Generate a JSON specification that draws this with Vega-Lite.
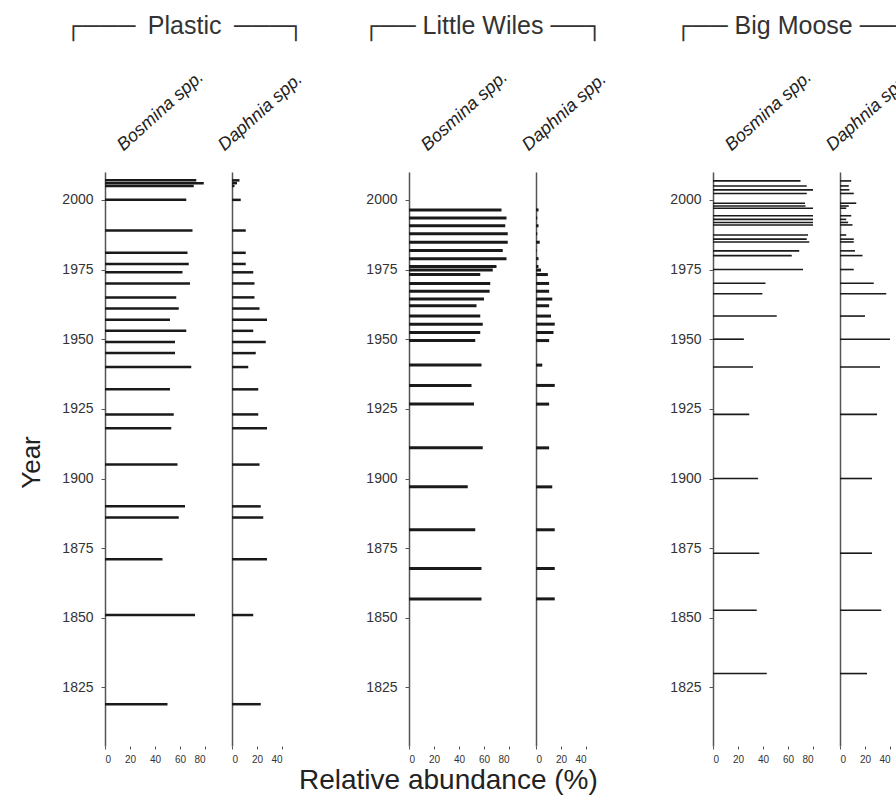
{
  "$schema": "https://vega.github.io/schema/vega-lite/v6.json",
  "background": "white",
  "padding": {"left": 18, "top": 13, "right": 0, "bottom": 0},
  "spacing": 27,
  "bounds": "flush",
  "title": {"text": "Relative abundance (%)", "orient": "bottom", "fontSize": 28, "fontWeight": "normal", "font": "Liberation Sans", "color": "#222", "anchor": "start", "dx": 281, "offset": 3},
  "config": {
    "view": {"stroke": null},
    "font": "Liberation Sans",
    "axis": {"labelFont": "Liberation Sans", "titleFont": "Liberation Sans", "domainColor": "#555", "tickColor": "#555", "labelColor": "#333", "grid": false, "domainWidth": 1.5, "titleColor": "#222", "titleFontWeight": "normal"},
    "title": {"font": "Liberation Sans", "fontWeight": "normal", "color": "#222"}
  },
  "datasets": {
    "d": [
      {"lake": "Plastic", "taxon": "Bosmina", "year": 2007, "value": 73},
      {"lake": "Plastic", "taxon": "Bosmina", "year": 2006, "value": 79},
      {"lake": "Plastic", "taxon": "Bosmina", "year": 2005, "value": 71},
      {"lake": "Plastic", "taxon": "Bosmina", "year": 2000, "value": 65},
      {"lake": "Plastic", "taxon": "Bosmina", "year": 1989, "value": 70},
      {"lake": "Plastic", "taxon": "Bosmina", "year": 1981, "value": 66},
      {"lake": "Plastic", "taxon": "Bosmina", "year": 1977, "value": 67},
      {"lake": "Plastic", "taxon": "Bosmina", "year": 1974, "value": 62},
      {"lake": "Plastic", "taxon": "Bosmina", "year": 1970, "value": 68},
      {"lake": "Plastic", "taxon": "Bosmina", "year": 1965, "value": 57},
      {"lake": "Plastic", "taxon": "Bosmina", "year": 1961, "value": 59},
      {"lake": "Plastic", "taxon": "Bosmina", "year": 1957, "value": 52},
      {"lake": "Plastic", "taxon": "Bosmina", "year": 1953, "value": 65},
      {"lake": "Plastic", "taxon": "Bosmina", "year": 1949, "value": 56},
      {"lake": "Plastic", "taxon": "Bosmina", "year": 1945, "value": 56},
      {"lake": "Plastic", "taxon": "Bosmina", "year": 1940, "value": 69},
      {"lake": "Plastic", "taxon": "Bosmina", "year": 1932, "value": 52},
      {"lake": "Plastic", "taxon": "Bosmina", "year": 1923, "value": 55},
      {"lake": "Plastic", "taxon": "Bosmina", "year": 1918, "value": 53},
      {"lake": "Plastic", "taxon": "Bosmina", "year": 1905, "value": 58},
      {"lake": "Plastic", "taxon": "Bosmina", "year": 1890, "value": 64},
      {"lake": "Plastic", "taxon": "Bosmina", "year": 1886, "value": 59},
      {"lake": "Plastic", "taxon": "Bosmina", "year": 1871, "value": 46},
      {"lake": "Plastic", "taxon": "Bosmina", "year": 1851, "value": 72},
      {"lake": "Plastic", "taxon": "Bosmina", "year": 1819, "value": 50},
      {"lake": "Plastic", "taxon": "Daphnia", "year": 2007, "value": 6},
      {"lake": "Plastic", "taxon": "Daphnia", "year": 2006, "value": 4},
      {"lake": "Plastic", "taxon": "Daphnia", "year": 2005, "value": 2},
      {"lake": "Plastic", "taxon": "Daphnia", "year": 2000, "value": 7},
      {"lake": "Plastic", "taxon": "Daphnia", "year": 1989, "value": 11},
      {"lake": "Plastic", "taxon": "Daphnia", "year": 1981, "value": 11},
      {"lake": "Plastic", "taxon": "Daphnia", "year": 1977, "value": 11},
      {"lake": "Plastic", "taxon": "Daphnia", "year": 1974, "value": 17},
      {"lake": "Plastic", "taxon": "Daphnia", "year": 1970, "value": 18},
      {"lake": "Plastic", "taxon": "Daphnia", "year": 1965, "value": 18},
      {"lake": "Plastic", "taxon": "Daphnia", "year": 1961, "value": 22},
      {"lake": "Plastic", "taxon": "Daphnia", "year": 1957, "value": 28},
      {"lake": "Plastic", "taxon": "Daphnia", "year": 1953, "value": 17},
      {"lake": "Plastic", "taxon": "Daphnia", "year": 1949, "value": 27},
      {"lake": "Plastic", "taxon": "Daphnia", "year": 1945, "value": 19},
      {"lake": "Plastic", "taxon": "Daphnia", "year": 1940, "value": 13},
      {"lake": "Plastic", "taxon": "Daphnia", "year": 1932, "value": 21},
      {"lake": "Plastic", "taxon": "Daphnia", "year": 1923, "value": 21},
      {"lake": "Plastic", "taxon": "Daphnia", "year": 1918, "value": 28},
      {"lake": "Plastic", "taxon": "Daphnia", "year": 1905, "value": 22},
      {"lake": "Plastic", "taxon": "Daphnia", "year": 1890, "value": 23},
      {"lake": "Plastic", "taxon": "Daphnia", "year": 1886, "value": 25},
      {"lake": "Plastic", "taxon": "Daphnia", "year": 1871, "value": 28},
      {"lake": "Plastic", "taxon": "Daphnia", "year": 1851, "value": 17},
      {"lake": "Plastic", "taxon": "Daphnia", "year": 1819, "value": 23},
      {"lake": "Little Wiles", "taxon": "Bosmina", "year": 1996.4, "value": 74},
      {"lake": "Little Wiles", "taxon": "Bosmina", "year": 1993.5, "value": 78},
      {"lake": "Little Wiles", "taxon": "Bosmina", "year": 1990.7, "value": 77},
      {"lake": "Little Wiles", "taxon": "Bosmina", "year": 1987.8, "value": 79},
      {"lake": "Little Wiles", "taxon": "Bosmina", "year": 1984.8, "value": 79},
      {"lake": "Little Wiles", "taxon": "Bosmina", "year": 1981.8, "value": 75},
      {"lake": "Little Wiles", "taxon": "Bosmina", "year": 1978.9, "value": 78},
      {"lake": "Little Wiles", "taxon": "Bosmina", "year": 1976.1, "value": 70},
      {"lake": "Little Wiles", "taxon": "Bosmina", "year": 1974.8, "value": 67},
      {"lake": "Little Wiles", "taxon": "Bosmina", "year": 1973.2, "value": 57},
      {"lake": "Little Wiles", "taxon": "Bosmina", "year": 1970, "value": 65},
      {"lake": "Little Wiles", "taxon": "Bosmina", "year": 1967.2, "value": 64.5},
      {"lake": "Little Wiles", "taxon": "Bosmina", "year": 1964.4, "value": 60},
      {"lake": "Little Wiles", "taxon": "Bosmina", "year": 1962, "value": 54},
      {"lake": "Little Wiles", "taxon": "Bosmina", "year": 1958.3, "value": 57},
      {"lake": "Little Wiles", "taxon": "Bosmina", "year": 1955.4, "value": 59},
      {"lake": "Little Wiles", "taxon": "Bosmina", "year": 1952.4, "value": 57},
      {"lake": "Little Wiles", "taxon": "Bosmina", "year": 1949.5, "value": 53},
      {"lake": "Little Wiles", "taxon": "Bosmina", "year": 1940.7, "value": 58},
      {"lake": "Little Wiles", "taxon": "Bosmina", "year": 1933.4, "value": 50},
      {"lake": "Little Wiles", "taxon": "Bosmina", "year": 1926.7, "value": 52},
      {"lake": "Little Wiles", "taxon": "Bosmina", "year": 1911, "value": 59},
      {"lake": "Little Wiles", "taxon": "Bosmina", "year": 1897, "value": 47},
      {"lake": "Little Wiles", "taxon": "Bosmina", "year": 1881.6, "value": 53},
      {"lake": "Little Wiles", "taxon": "Bosmina", "year": 1867.7, "value": 58},
      {"lake": "Little Wiles", "taxon": "Bosmina", "year": 1856.8, "value": 58},
      {"lake": "Little Wiles", "taxon": "Daphnia", "year": 1996.4, "value": 2},
      {"lake": "Little Wiles", "taxon": "Daphnia", "year": 1993.5, "value": 1},
      {"lake": "Little Wiles", "taxon": "Daphnia", "year": 1990.7, "value": 2},
      {"lake": "Little Wiles", "taxon": "Daphnia", "year": 1987.8, "value": 1},
      {"lake": "Little Wiles", "taxon": "Daphnia", "year": 1984.8, "value": 3},
      {"lake": "Little Wiles", "taxon": "Daphnia", "year": 1981.8, "value": 0.5},
      {"lake": "Little Wiles", "taxon": "Daphnia", "year": 1978.9, "value": 2},
      {"lake": "Little Wiles", "taxon": "Daphnia", "year": 1976.1, "value": 2},
      {"lake": "Little Wiles", "taxon": "Daphnia", "year": 1974.8, "value": 4},
      {"lake": "Little Wiles", "taxon": "Daphnia", "year": 1973.2, "value": 9.5},
      {"lake": "Little Wiles", "taxon": "Daphnia", "year": 1970, "value": 10.5},
      {"lake": "Little Wiles", "taxon": "Daphnia", "year": 1967.2, "value": 10.5},
      {"lake": "Little Wiles", "taxon": "Daphnia", "year": 1964.4, "value": 13},
      {"lake": "Little Wiles", "taxon": "Daphnia", "year": 1962, "value": 10.5},
      {"lake": "Little Wiles", "taxon": "Daphnia", "year": 1958.3, "value": 12},
      {"lake": "Little Wiles", "taxon": "Daphnia", "year": 1955.4, "value": 15},
      {"lake": "Little Wiles", "taxon": "Daphnia", "year": 1952.4, "value": 14},
      {"lake": "Little Wiles", "taxon": "Daphnia", "year": 1949.5, "value": 10.5},
      {"lake": "Little Wiles", "taxon": "Daphnia", "year": 1940.7, "value": 5},
      {"lake": "Little Wiles", "taxon": "Daphnia", "year": 1933.4, "value": 15},
      {"lake": "Little Wiles", "taxon": "Daphnia", "year": 1926.7, "value": 10.5},
      {"lake": "Little Wiles", "taxon": "Daphnia", "year": 1911, "value": 10.5},
      {"lake": "Little Wiles", "taxon": "Daphnia", "year": 1897, "value": 13},
      {"lake": "Little Wiles", "taxon": "Daphnia", "year": 1881.6, "value": 15},
      {"lake": "Little Wiles", "taxon": "Daphnia", "year": 1867.7, "value": 15},
      {"lake": "Little Wiles", "taxon": "Daphnia", "year": 1856.8, "value": 15},
      {"lake": "Big Moose", "taxon": "Bosmina", "year": 2006.8, "value": 70},
      {"lake": "Big Moose", "taxon": "Bosmina", "year": 2005, "value": 75},
      {"lake": "Big Moose", "taxon": "Bosmina", "year": 2003.6, "value": 80},
      {"lake": "Big Moose", "taxon": "Bosmina", "year": 2002.3, "value": 75},
      {"lake": "Big Moose", "taxon": "Bosmina", "year": 1998.8, "value": 73.6},
      {"lake": "Big Moose", "taxon": "Bosmina", "year": 1997.8, "value": 74},
      {"lake": "Big Moose", "taxon": "Bosmina", "year": 1997, "value": 80},
      {"lake": "Big Moose", "taxon": "Bosmina", "year": 1994.3, "value": 80},
      {"lake": "Big Moose", "taxon": "Bosmina", "year": 1993, "value": 80},
      {"lake": "Big Moose", "taxon": "Bosmina", "year": 1991.9, "value": 80},
      {"lake": "Big Moose", "taxon": "Bosmina", "year": 1991, "value": 80},
      {"lake": "Big Moose", "taxon": "Bosmina", "year": 1987.4, "value": 76},
      {"lake": "Big Moose", "taxon": "Bosmina", "year": 1985.9, "value": 75},
      {"lake": "Big Moose", "taxon": "Bosmina", "year": 1984.9, "value": 77},
      {"lake": "Big Moose", "taxon": "Bosmina", "year": 1981.7, "value": 69},
      {"lake": "Big Moose", "taxon": "Bosmina", "year": 1980, "value": 63},
      {"lake": "Big Moose", "taxon": "Bosmina", "year": 1975, "value": 72},
      {"lake": "Big Moose", "taxon": "Bosmina", "year": 1970.1, "value": 42},
      {"lake": "Big Moose", "taxon": "Bosmina", "year": 1966.3, "value": 39.5},
      {"lake": "Big Moose", "taxon": "Bosmina", "year": 1958.3, "value": 51},
      {"lake": "Big Moose", "taxon": "Bosmina", "year": 1950, "value": 24.7},
      {"lake": "Big Moose", "taxon": "Bosmina", "year": 1940, "value": 32},
      {"lake": "Big Moose", "taxon": "Bosmina", "year": 1923, "value": 29},
      {"lake": "Big Moose", "taxon": "Bosmina", "year": 1900, "value": 36},
      {"lake": "Big Moose", "taxon": "Bosmina", "year": 1873.2, "value": 37},
      {"lake": "Big Moose", "taxon": "Bosmina", "year": 1852.7, "value": 35},
      {"lake": "Big Moose", "taxon": "Bosmina", "year": 1830, "value": 43},
      {"lake": "Big Moose", "taxon": "Daphnia", "year": 2006.8, "value": 9},
      {"lake": "Big Moose", "taxon": "Daphnia", "year": 2005, "value": 7},
      {"lake": "Big Moose", "taxon": "Daphnia", "year": 2003.6, "value": 7.5},
      {"lake": "Big Moose", "taxon": "Daphnia", "year": 2002.3, "value": 11},
      {"lake": "Big Moose", "taxon": "Daphnia", "year": 1998.8, "value": 13},
      {"lake": "Big Moose", "taxon": "Daphnia", "year": 1997.8, "value": 7},
      {"lake": "Big Moose", "taxon": "Daphnia", "year": 1997, "value": 5},
      {"lake": "Big Moose", "taxon": "Daphnia", "year": 1994.3, "value": 9},
      {"lake": "Big Moose", "taxon": "Daphnia", "year": 1993, "value": 5},
      {"lake": "Big Moose", "taxon": "Daphnia", "year": 1991.9, "value": 6.5},
      {"lake": "Big Moose", "taxon": "Daphnia", "year": 1991, "value": 10},
      {"lake": "Big Moose", "taxon": "Daphnia", "year": 1987.4, "value": 5},
      {"lake": "Big Moose", "taxon": "Daphnia", "year": 1985.9, "value": 11},
      {"lake": "Big Moose", "taxon": "Daphnia", "year": 1984.9, "value": 11},
      {"lake": "Big Moose", "taxon": "Daphnia", "year": 1981.7, "value": 12},
      {"lake": "Big Moose", "taxon": "Daphnia", "year": 1980, "value": 18},
      {"lake": "Big Moose", "taxon": "Daphnia", "year": 1975, "value": 11},
      {"lake": "Big Moose", "taxon": "Daphnia", "year": 1970.1, "value": 27},
      {"lake": "Big Moose", "taxon": "Daphnia", "year": 1966.3, "value": 37},
      {"lake": "Big Moose", "taxon": "Daphnia", "year": 1958.3, "value": 20},
      {"lake": "Big Moose", "taxon": "Daphnia", "year": 1950, "value": 40},
      {"lake": "Big Moose", "taxon": "Daphnia", "year": 1940, "value": 32},
      {"lake": "Big Moose", "taxon": "Daphnia", "year": 1923, "value": 29.6},
      {"lake": "Big Moose", "taxon": "Daphnia", "year": 1900, "value": 25.6},
      {"lake": "Big Moose", "taxon": "Daphnia", "year": 1873.2, "value": 25.6},
      {"lake": "Big Moose", "taxon": "Daphnia", "year": 1852.7, "value": 33},
      {"lake": "Big Moose", "taxon": "Daphnia", "year": 1830, "value": 21.6}
    ]
  },
  "hconcat": [
    {
      "data": {"name": "d"}, "width": 100, "height": 574,
      "transform": [{"filter": "datum.lake == 'Plastic' && datum.taxon == 'Bosmina'"}],
      "mark": {"type": "rule", "strokeWidth": 2.5, "color": "#1a1a1a"},
      "encoding": {
        "y": {"field": "year", "type": "quantitative", "scale": {"domain": [1804, 2010], "nice": false, "zero": false}, "axis": {"values": [1825, 1850, 1875, 1900, 1925, 1950, 1975, 2000], "format": "d", "labelFontSize": 14, "tickSize": 4, "labelPadding": 8, "title": "Bosmina spp.", "titleFontStyle": "italic", "titleFontSize": 18, "titleAngle": 318, "titleAlign": "left", "titleBaseline": "alphabetic", "titleX": 18, "titleY": -21}},
        "x": {"field": "value", "type": "quantitative", "scale": {"domain": [0, 80], "nice": false}, "axis": {"values": [0, 20, 40, 60, 80], "labelFontSize": 10, "domain": false, "tickSize": 3, "labelPadding": 5, "title": "┌───\u2002Plastic\u2002───┐", "titleFontSize": 25, "titleColor": "#333", "titleAngle": 0, "titleAlign": "left", "titleBaseline": "alphabetic", "titleX": -41, "titleY": -713}},
        "x2": {"datum": 0}
      }
    },
    {
      "data": {"name": "d"}, "width": 50, "height": 574,
      "transform": [{"filter": "datum.lake == 'Plastic' && datum.taxon == 'Daphnia'"}],
      "mark": {"type": "rule", "strokeWidth": 2.5, "color": "#1a1a1a"},
      "encoding": {
        "y": {"field": "year", "type": "quantitative", "scale": {"domain": [1804, 2010], "nice": false, "zero": false}, "axis": {"labels": false, "ticks": false, "title": "Daphnia spp.", "titleFontStyle": "italic", "titleFontSize": 18, "titleAngle": 318, "titleAlign": "left", "titleBaseline": "alphabetic", "titleX": -8, "titleY": -21}},
        "x": {"field": "value", "type": "quantitative", "scale": {"domain": [0, 40], "nice": false}, "axis": {"values": [0, 20, 40], "labelFontSize": 10, "domain": false, "tickSize": 3, "labelPadding": 5, "title": "Year", "titleFontSize": 26, "titleAngle": 270, "titleAlign": "center", "titleBaseline": "middle", "titleX": -201, "titleY": -284}},
        "x2": {"datum": 0}
      }
    },
    {
      "data": {"values": [{"s": 0}]}, "width": 73, "height": 574,
      "mark": {"type": "point", "opacity": 0},
      "encoding": {}
    },
    {
      "data": {"name": "d"}, "width": 100, "height": 574,
      "transform": [{"filter": "datum.lake == 'Little Wiles' && datum.taxon == 'Bosmina'"}],
      "mark": {"type": "rule", "strokeWidth": 3, "color": "#1a1a1a"},
      "encoding": {
        "y": {"field": "year", "type": "quantitative", "scale": {"domain": [1804, 2010], "nice": false, "zero": false}, "axis": {"values": [1825, 1850, 1875, 1900, 1925, 1950, 1975, 2000], "format": "d", "labelFontSize": 14, "tickSize": 4, "labelPadding": 8, "title": "Bosmina spp.", "titleFontStyle": "italic", "titleFontSize": 18, "titleAngle": 318, "titleAlign": "left", "titleBaseline": "alphabetic", "titleX": 18, "titleY": -21}},
        "x": {"field": "value", "type": "quantitative", "scale": {"domain": [0, 80], "nice": false}, "axis": {"values": [0, 20, 40, 60, 80], "labelFontSize": 10, "domain": false, "tickSize": 3, "labelPadding": 5, "title": "┌── Little Wiles ──┐", "titleFontSize": 25, "titleColor": "#333", "titleAngle": 0, "titleAlign": "left", "titleBaseline": "alphabetic", "titleX": -47, "titleY": -713}},
        "x2": {"datum": 0}
      }
    },
    {
      "data": {"name": "d"}, "width": 50, "height": 574,
      "transform": [{"filter": "datum.lake == 'Little Wiles' && datum.taxon == 'Daphnia'"}],
      "mark": {"type": "rule", "strokeWidth": 3, "color": "#1a1a1a"},
      "encoding": {
        "y": {"field": "year", "type": "quantitative", "scale": {"domain": [1804, 2010], "nice": false, "zero": false}, "axis": {"labels": false, "ticks": false, "title": "Daphnia spp.", "titleFontStyle": "italic", "titleFontSize": 18, "titleAngle": 318, "titleAlign": "left", "titleBaseline": "alphabetic", "titleX": -8, "titleY": -21}},
        "x": {"field": "value", "type": "quantitative", "scale": {"domain": [0, 40], "nice": false}, "axis": {"values": [0, 20, 40], "labelFontSize": 10, "title": null, "domain": false, "tickSize": 3, "labelPadding": 5}},
        "x2": {"datum": 0}
      }
    },
    {
      "data": {"values": [{"s": 0}]}, "width": 73, "height": 574,
      "mark": {"type": "point", "opacity": 0},
      "encoding": {}
    },
    {
      "data": {"name": "d"}, "width": 100, "height": 574,
      "transform": [{"filter": "datum.lake == 'Big Moose' && datum.taxon == 'Bosmina'"}],
      "mark": {"type": "rule", "strokeWidth": 1.6, "color": "#1a1a1a"},
      "encoding": {
        "y": {"field": "year", "type": "quantitative", "scale": {"domain": [1804, 2010], "nice": false, "zero": false}, "axis": {"values": [1825, 1850, 1875, 1900, 1925, 1950, 1975, 2000], "format": "d", "labelFontSize": 14, "tickSize": 4, "labelPadding": 8, "title": "Bosmina spp.", "titleFontStyle": "italic", "titleFontSize": 18, "titleAngle": 318, "titleAlign": "left", "titleBaseline": "alphabetic", "titleX": 18, "titleY": -21}},
        "x": {"field": "value", "type": "quantitative", "scale": {"domain": [0, 80], "nice": false}, "axis": {"values": [0, 20, 40, 60, 80], "labelFontSize": 10, "domain": false, "tickSize": 3, "labelPadding": 5, "title": "┌── Big Moose ──────┐", "titleFontSize": 25, "titleColor": "#333", "titleAngle": 0, "titleAlign": "left", "titleBaseline": "alphabetic", "titleX": -39, "titleY": -713}},
        "x2": {"datum": 0}
      }
    },
    {
      "data": {"name": "d"}, "width": 50, "height": 574,
      "transform": [{"filter": "datum.lake == 'Big Moose' && datum.taxon == 'Daphnia'"}],
      "mark": {"type": "rule", "strokeWidth": 1.6, "color": "#1a1a1a"},
      "encoding": {
        "y": {"field": "year", "type": "quantitative", "scale": {"domain": [1804, 2010], "nice": false, "zero": false}, "axis": {"labels": false, "ticks": false, "title": "Daphnia spp.", "titleFontStyle": "italic", "titleFontSize": 18, "titleAngle": 318, "titleAlign": "left", "titleBaseline": "alphabetic", "titleX": -8, "titleY": -21}},
        "x": {"field": "value", "type": "quantitative", "scale": {"domain": [0, 40], "nice": false}, "axis": {"values": [0, 20, 40], "labelFontSize": 10, "title": null, "domain": false, "tickSize": 3, "labelPadding": 5}},
        "x2": {"datum": 0}
      }
    }
  ]
}
